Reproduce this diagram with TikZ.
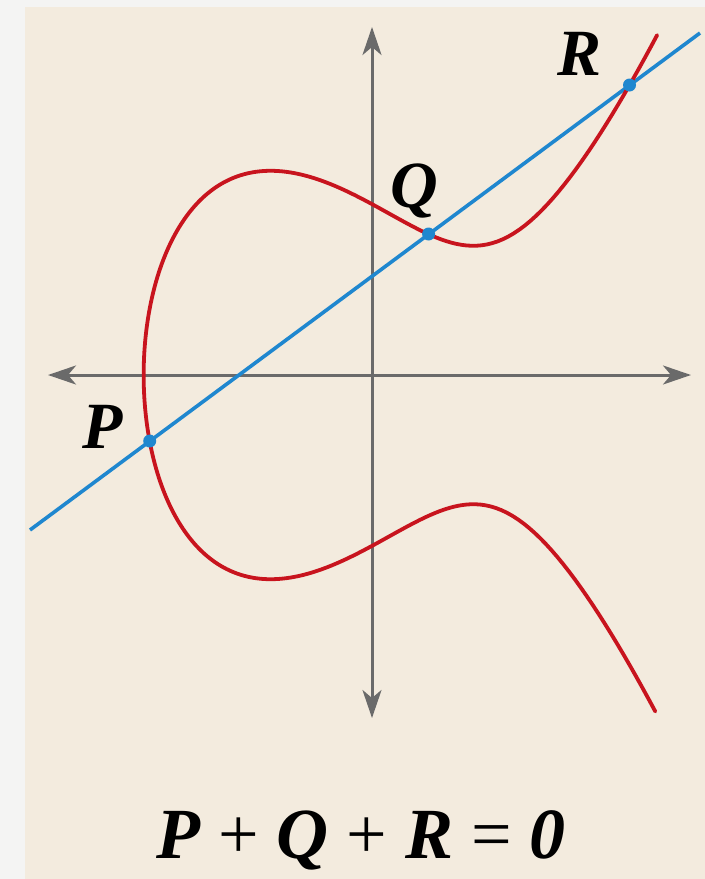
\documentclass[tikz,border=0pt]{standalone}
\usepackage{fontspec}
\setmainfont{Liberation Serif}
\usetikzlibrary{arrows.meta}
\definecolor{bgout}{HTML}{F4F4F3}
\definecolor{panel}{HTML}{F3EBDE}
\definecolor{curvered}{HTML}{C8141E}
\definecolor{lineblue}{HTML}{1F87CF}
\definecolor{axisgray}{HTML}{6A6A6A}
\begin{document}
\begin{tikzpicture}[x=0.5pt,y=-0.5pt,
  declare function={tt(\u)=-2.2835+\u*\u; ff(\t)=0.6*\t*\t*\t-1.85*\t+2.92;},
  axisline/.style={draw=axisgray,line width=1.5pt,{Stealth[length=14pt,width=9.5pt,inset=4pt]}-{Stealth[length=14pt,width=9.5pt,inset=4pt]}},
  curveline/.style={draw=curvered,line width=1.9pt,line join=round,line cap=round},
  secant/.style={draw=lineblue,line width=1.8pt},
  dot/.style={circle,fill=lineblue,inner sep=0pt,minimum size=6.5pt},
  lbl/.style={font=\fontsize{33}{33}\selectfont\bfseries\itshape,inner sep=0pt,text=black},
  eqn/.style={font=\fontsize{36}{36}\selectfont,inner sep=0pt,text=black}]
\fill[bgout] (0,0) rectangle (705,879);
\fill[panel] (25,7) rectangle (705,879);
\useasboundingbox (0,0) rectangle (705,879);
% axes
\coordinate (xl) at (48,375);
\coordinate (xr) at (691,375);
\coordinate (yt) at (372,27);
\coordinate (yb) at (372,718);
\draw[axisline] (xl) -- (xr);
\draw[axisline] (yb) -- (yt);
% secant line
\coordinate (la) at (30,530);
\coordinate (lb) at (700,33);
\draw[secant] (la) -- (lb);
% elliptic curve
\draw[curveline] plot[domain=2.262:0,samples=160,variable=\u]
   ({372+100*tt(\u)},{375+100*sqrt(max(ff(tt(\u)),0))})
 -- plot[domain=0:2.268,samples=160,variable=\u]
   ({372+100*tt(\u)},{375-100*sqrt(max(ff(tt(\u)),0))});
% intersection points
\node[dot] (P) at (149.7,441) {};
\node[dot] (Q) at (428.6,234) {};
\node[dot] (R) at (629.5,85) {};
% labels
\node[lbl,anchor=base west] (lP) at (82,448) {P};
\node[lbl,anchor=base west] (lQ) at (390,207) {Q};
\node[lbl,anchor=base west] (lR) at (557,75) {R};
% equation
\node[eqn,anchor=base] (eq) at (361,858) {{\bfseries\itshape P} + {\bfseries\itshape Q} + {\bfseries\itshape R} = {\bfseries\itshape 0}};
\end{tikzpicture}
\end{document}
